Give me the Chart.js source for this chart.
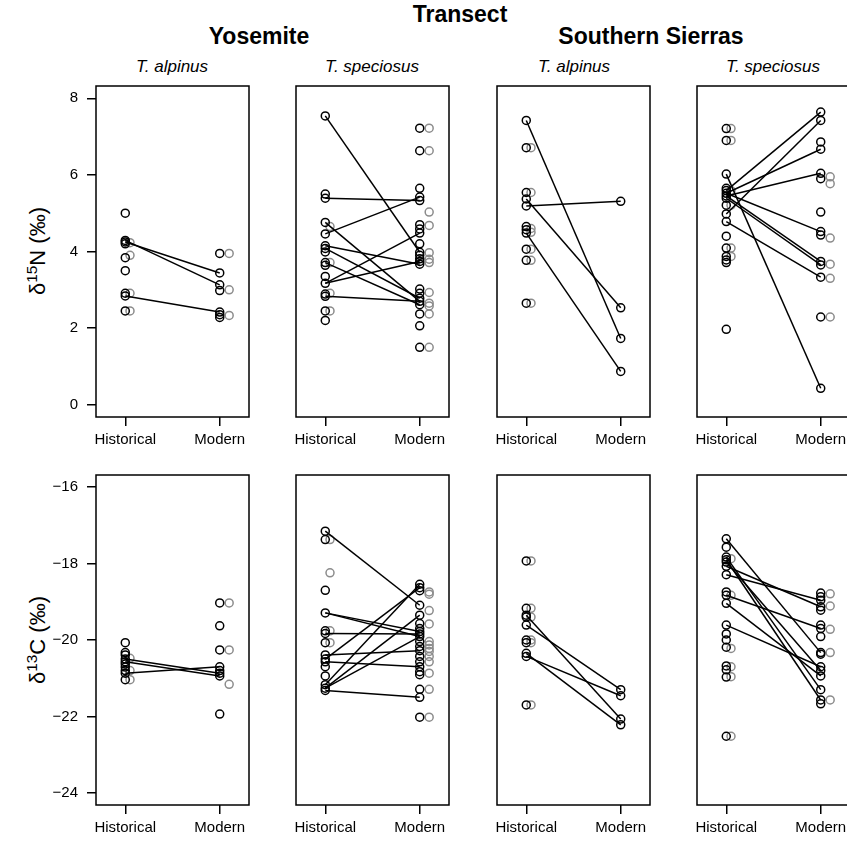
<!DOCTYPE html>
<html>
<head>
<meta charset="utf-8">
<title>Transect isotopes</title>
<script src="https://cdn.jsdelivr.net/npm/chart.js@4"></script>
<style>
    body{ margin:0; background:#fff; }
    #fig{
        position:relative;
        width:847px; height:842px;
        overflow:hidden;
        font-family:'Liberation Sans', Arial, sans-serif;
        color:#000;
    }
    #fig canvas{ position:absolute; }
    .lab{ position:absolute; white-space:nowrap; transform:translateX(-50%); line-height:1; }
    .big{ font-weight:bold; font-size:23px; }
    .sp{ font-style:italic; font-size:17px; }
    .ylab{
        position:absolute; white-space:nowrap; line-height:1;
        font-size:22px;
        transform:translate(-50%,-50%) rotate(-90deg);
    }
    .ylab sup{ font-size:0.7em; vertical-align:baseline; position:relative; top:-0.55em; }
</style>
</head>
<body>
<div id="fig">
    <div class="lab big" style="left:460px; top:3px">Transect</div>
    <div class="lab big" id="t0" style="left:259px; top:25px"></div>
    <div class="lab big" id="t1" style="left:651px; top:25px"></div>
    <div class="lab sp" id="s0" style="left:172px; top:58px"></div>
    <div class="lab sp" id="s1" style="left:372px; top:58px"></div>
    <div class="lab sp" id="s2" style="left:574px; top:58px"></div>
    <div class="lab sp" id="s3" style="left:773px; top:58px"></div>
    <div class="ylab" style="left:38px; top:251px">δ<sup>15</sup>N (‰)</div>
    <div class="ylab" style="left:38px; top:640px">δ<sup>13</sup>C (‰)</div>
</div>
<script>

    const periods = ['Historical', 'Modern']
    const transects = ['Yosemite', 'Southern Sierras']
    const species = ['T. alpinus', 'T. speciosus']
    const nTicks = [0, 2, 4, 6, 8]
    const cTicks = [-24, -22, -20, -18, -16]

    // d15N - Yosemite, T. alpinus
    const nYosAlpHist = [5.0, 4.29, 4.25, 4.2, 3.84, 3.5, 2.91, 2.84, 2.45]
    const nYosAlpHistGray = [4.23, 3.9, 2.91, 2.45]
    const nYosAlpMod = [3.95, 3.44, 3.13, 2.98, 2.42, 2.35, 2.28]
    const nYosAlpModGray = [3.95, 3.0, 2.33]
    const nYosAlpPairs = [[4.25, 3.44], [4.29, 3.13], [2.84, 2.42]]

    // d15N - Yosemite, T. speciosus
    const nYosSpeHist = [7.54, 5.5, 5.39, 4.76, 4.46, 4.15, 4.08, 3.99, 3.71, 3.64, 3.35, 3.17, 2.89, 2.83, 2.45, 2.2]
    const nYosSpeHistGray = [4.65, 3.71, 2.91, 2.45]
    const nYosSpeMod = [7.22, 6.63, 5.65, 5.42, 5.33, 4.7, 4.59, 4.48, 4.2, 3.98, 3.9, 3.81, 3.74, 3.67, 3.02, 2.91, 2.78, 2.7, 2.61, 2.37, 2.06, 1.5]
    const nYosSpeModGray = [7.22, 6.63, 5.03, 4.68, 3.97, 3.8, 3.71, 2.93, 2.65, 2.58, 2.37, 1.5]
    const nYosSpePairs = [[7.54, 3.98], [5.39, 5.33], [4.76, 2.7], [4.46, 5.42], [4.15, 3.67], [4.08, 2.78],
                          [3.71, 2.61], [3.17, 4.48], [3.17, 3.74], [2.83, 2.7]]

    // d15N - Southern Sierras, T. alpinus
    const nSsAlpHist = [7.42, 6.71, 5.54, 5.37, 5.19, 4.65, 4.57, 4.48, 4.06, 3.77, 2.65]
    const nSsAlpHistGray = [6.71, 5.54, 4.6, 4.5, 4.06, 3.77, 2.65]
    const nSsAlpMod = [5.31, 2.53, 1.73, 0.87]
    const nSsAlpModGray = []
    const nSsAlpPairs = [[7.42, 1.73], [5.19, 5.31], [5.37, 2.53], [4.48, 0.87]]

    // d15N - Southern Sierras, T. speciosus
    const nSsSpeHist = [7.21, 6.9, 6.02, 5.65, 5.59, 5.52, 5.45, 5.39, 5.21, 4.98, 4.78, 4.4, 4.09, 3.87, 3.78, 3.71, 1.97]
    const nSsSpeHistGray = [7.21, 6.9, 5.59, 5.21, 4.09, 3.87]
    const nSsSpeMod = [7.64, 7.42, 6.86, 6.67, 6.04, 5.9, 5.03, 4.52, 4.43, 3.74, 3.65, 3.33, 2.29, 0.43]
    const nSsSpeModGray = [5.95, 5.77, 4.35, 3.67, 3.3, 2.29]
    const nSsSpePairs = [[5.59, 7.64], [4.98, 7.42], [5.52, 6.67], [5.45, 6.04], [5.52, 4.52],
                         [5.45, 3.74], [5.39, 3.65], [6.02, 0.43], [4.78, 3.33]]

    // d13C - Yosemite, T. alpinus
    const cYosAlpHist = [-20.07, -20.33, -20.39, -20.5, -20.57, -20.63, -20.71, -20.8, -20.87, -21.04]
    const cYosAlpHistGray = [-20.48, -20.8, -21.04]
    const cYosAlpMod = [-19.03, -19.63, -20.26, -20.7, -20.8, -20.87, -20.94, -21.94]
    const cYosAlpModGray = [-19.03, -20.26, -21.16]
    const cYosAlpPairs = [[-20.5, -20.87], [-20.57, -20.94], [-20.87, -20.7]]

    // d13C - Yosemite, T. speciosus
    const cYosSpeHist = [-17.15, -17.37, -18.7, -19.29, -19.76, -19.83, -20.07, -20.39, -20.5, -20.57, -20.7, -20.94, -21.17, -21.26, -21.32]
    const cYosSpeHistGray = [-17.37, -18.24, -19.76, -20.07]
    const cYosSpeMod = [-18.54, -18.63, -18.71, -19.09, -19.35, -19.57, -19.7, -19.78, -19.84, -19.91, -20.04, -20.17,
                        -20.28, -20.43, -20.57, -20.7, -20.83, -20.91, -21.29, -21.5, -22.02]
    const cYosSpeModGray = [-18.74, -18.8, -19.23, -19.58, -20.04, -20.13, -20.22, -20.3, -20.43, -20.57, -20.87, -21.29, -22.02]
    const cYosSpePairs = [[-17.15, -19.09], [-19.29, -19.78], [-19.29, -19.91], [-19.83, -19.84], [-20.39, -20.28],
                          [-20.57, -20.7], [-20.5, -18.63], [-21.17, -18.54], [-21.26, -19.35], [-21.26, -19.91], [-21.32, -21.5]]

    // d13C - Southern Sierras, T. alpinus
    const cSsAlpHist = [-17.93, -19.17, -19.35, -19.4, -19.61, -20.0, -20.07, -20.35, -20.43, -21.7]
    const cSsAlpHistGray = [-17.93, -19.17, -19.4, -20.0, -20.07, -21.7]
    const cSsAlpMod = [-21.3, -21.46, -22.07, -22.22]
    const cSsAlpModGray = []
    const cSsAlpPairs = [[-19.35, -22.07], [-19.61, -21.3], [-20.35, -22.22], [-20.43, -21.46]]

    // d13C - Southern Sierras, T. speciosus
    const cSsSpeHist = [-17.35, -17.57, -17.83, -17.9, -17.96, -18.07, -18.29, -18.74, -18.83, -19.04, -19.61, -19.84,
                        -20.0, -20.19, -20.68, -20.78, -20.97, -22.52]
    const cSsSpeHistGray = [-17.87, -18.83, -20.22, -20.7, -20.96, -22.52]
    const cSsSpeMod = [-18.77, -18.87, -18.96, -19.13, -19.22, -19.61, -19.7, -19.91, -20.33, -20.37, -20.7, -20.8,
                       -20.94, -21.3, -21.57, -21.67]
    const cSsSpeModGray = [-18.79, -19.11, -19.72, -20.33, -21.57]
    const cSsSpePairs = [[-17.35, -20.33], [-17.83, -21.3], [-17.9, -21.57], [-17.96, -20.8], [-18.07, -19.13],
                         [-18.29, -18.96], [-18.83, -19.7], [-19.04, -20.94], [-19.61, -20.7]]


    document.getElementById('t0').textContent = transects[0]
    document.getElementById('t1').textContent = transects[1]
    for(let i=0; i<4; i++) document.getElementById('s'+i).textContent = species[i%2]

    const panels = [
        {row:0, col:0, h:nYosAlpHist, hg:nYosAlpHistGray, m:nYosAlpMod, mg:nYosAlpModGray, pairs:nYosAlpPairs},
        {row:0, col:1, h:nYosSpeHist, hg:nYosSpeHistGray, m:nYosSpeMod, mg:nYosSpeModGray, pairs:nYosSpePairs},
        {row:0, col:2, h:nSsAlpHist,  hg:nSsAlpHistGray,  m:nSsAlpMod,  mg:nSsAlpModGray,  pairs:nSsAlpPairs},
        {row:0, col:3, h:nSsSpeHist,  hg:nSsSpeHistGray,  m:nSsSpeMod,  mg:nSsSpeModGray,  pairs:nSsSpePairs},
        {row:1, col:0, h:cYosAlpHist, hg:cYosAlpHistGray, m:cYosAlpMod, mg:cYosAlpModGray, pairs:cYosAlpPairs},
        {row:1, col:1, h:cYosSpeHist, hg:cYosSpeHistGray, m:cYosSpeMod, mg:cYosSpeModGray, pairs:cYosSpePairs},
        {row:1, col:2, h:cSsAlpHist,  hg:cSsAlpHistGray,  m:cSsAlpMod,  mg:cSsAlpModGray,  pairs:cSsAlpPairs},
        {row:1, col:3, h:cSsSpeHist,  hg:cSsSpeHistGray,  m:cSsSpeMod,  mg:cSsSpeModGray,  pairs:cSsSpePairs}
    ]

    // panel frame boxes (px)
    const frameLeft = [96, 296, 497, 697]
    const frameW = 153
    const frameTop = [86, 475]
    const frameH = [331, 330]
    const before = 70, after = 30, above = 24, below = 45

    Chart.defaults.font.family = "'Liberation Sans', Arial, sans-serif"
    Chart.defaults.color = '#000'

    const framePlugin = {
        id: 'frame',
        afterDatasetsDraw(chart){
            const a = chart.chartArea
            const c = chart.ctx
            c.save()
            c.strokeStyle = '#000'
            c.lineWidth = 1.5
            c.strokeRect(a.left, a.top, a.right - a.left, a.bottom - a.top)
            c.restore()
        }
    }

    function pts(vals, x){
        return vals.map(v => ({x: x, y: v}))
    }

    function pointSet(vals, x, color){
        return {
            data: pts(vals, x),
            showLine: false,
            pointRadius: 4,
            pointBorderWidth: 1.5,
            pointBorderColor: color,
            pointBackgroundColor: 'rgba(0,0,0,0)'
        }
    }

    const fig = document.getElementById('fig')

    panels.forEach(p => {
        const cv = document.createElement('canvas')
        cv.width = before + frameW + after
        cv.height = above + frameH[p.row] + below
        cv.style.left = (frameLeft[p.col] - before) + 'px'
        cv.style.top = (frameTop[p.row] - above) + 'px'
        fig.appendChild(cv)

        const yt = p.row === 0 ? nTicks : cTicks
        const ds = []
        ds.push(pointSet(p.h, 1, '#000'))
        ds.push(pointSet(p.m, 2, '#000'))
        p.pairs.forEach(pr => {
            ds.push({
                data: [{x:1, y:pr[0]}, {x:2, y:pr[1]}],
                showLine: true,
                borderColor: '#000',
                borderWidth: 1.5,
                pointRadius: 0
            })
        })
        ds.push(pointSet(p.hg, 1.05, '#8c8c8c'))
        ds.push(pointSet(p.mg, 2.1, '#8c8c8c'))

        const tickGrid = {display:true, drawOnChartArea:false, drawTicks:true, tickLength:9, color:'#000', lineWidth:1.5}

        new Chart(cv, {
            type: 'scatter',
            data: {datasets: ds},
            options: {
                responsive: false,
                animation: false,
                events: [],
                layout: {padding: {left: 0, right: after, top: above, bottom: 0}},
                plugins: {legend: {display:false}, tooltip: {enabled:false}},
                scales: {
                    x: {
                        type: 'linear',
                        min: 0.69, max: 2.31,
                        afterBuildTicks: s => { s.ticks = [{value:1}, {value:2}] },
                        afterFit: s => { s.height = below },
                        ticks: {
                            callback: v => v === 1 ? periods[0] : periods[1],
                            autoSkip: false, maxRotation: 0, padding: 5,
                            font: {size: 15}
                        },
                        grid: tickGrid,
                        border: {display: false}
                    },
                    y: {
                        type: 'linear',
                        display: p.col === 0,
                        min: yt[0] - 0.32, max: yt[yt.length-1] + 0.32,
                        afterBuildTicks: s => { s.ticks = yt.map(v => ({value:v})) },
                        afterFit: s => { s.width = before },
                        ticks: {
                            callback: v => String(v).replace('-', '\u2212'),
                            padding: 9,
                            font: {size: 15}
                        },
                        grid: tickGrid,
                        border: {display: false}
                    }
                }
            },
            plugins: [framePlugin]
        })
    })

</script>
</body>
</html>
